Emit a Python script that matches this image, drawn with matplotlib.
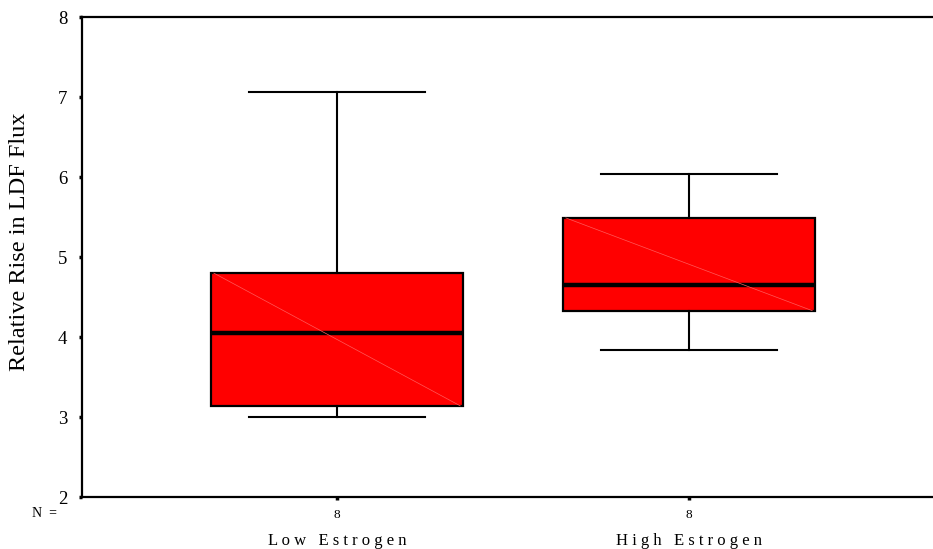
#!/usr/bin/env python3
"""
Boxplot of relative rise in LDF flux for low and high estrogen groups.
"""

import matplotlib
matplotlib.use('Agg')
import matplotlib.pyplot as plt

# data
groups = ['L o w   E s t r o g e n', 'H i g h   E s t r o g e n']
n_counts = [8, 8]
whisker_low = [3.0, 3.84]
q1 = [3.14, 4.33]
median = [4.05, 4.65]
q3 = [4.80, 5.49]
whisker_high = [7.06, 6.04]

plt.rcParams['font.family'] = ['Liberation Serif', 'DejaVu Serif']

fig = plt.figure(figsize=(9.33, 5.49), dpi=100)
ax = fig.add_axes([0.0879, 0.0947, 0.9121, 0.874])

positions = [1, 2]
stats = []
for i in range(len(groups)):
    stats.append({'whislo': whisker_low[i], 'q1': q1[i], 'med': median[i],
                  'q3': q3[i], 'whishi': whisker_high[i], 'fliers': []})

ax.bxp(stats, positions=positions, widths=0.716, capwidths=0.5,
       patch_artist=True, showfliers=False,
       boxprops=dict(facecolor='#ff0000', edgecolor='black', linewidth=1.6),
       medianprops=dict(color='black', linewidth=3.2),
       whiskerprops=dict(color='black', linewidth=1.5),
       capprops=dict(color='black', linewidth=1.5))

# faint diagonal inside each box (SPSS rendering artefact)
for p, lo, hi in zip(positions, q1, q3):
    ax.plot([p - 0.35, p + 0.35], [hi, lo], color='#ff5a5a', linewidth=0.5, zorder=3)

ax.set_xlim(0.2756, 2.693)
ax.set_ylim(2, 8)
ax.set_yticks([2, 3, 4, 5, 6, 7, 8])
ax.set_xticks(positions)
ax.set_xticklabels([str(n) for n in n_counts], fontsize=9.5)

ax.spines['right'].set_visible(False)
for s in ['left', 'top', 'bottom']:
    ax.spines[s].set_linewidth(1.6)

ax.tick_params(axis='y', direction='out', length=2.5, width=2.5, pad=8, labelsize=13.5)
ax.tick_params(axis='x', direction='out', length=2.5, width=2.5, pad=6)

ax.set_ylabel('Relative Rise in LDF Flux', fontsize=17.5)
ax.yaxis.set_label_coords(-0.061, 0.533)

for p, g in zip(positions, groups):
    ax.text(p, -0.091, g, transform=ax.get_xaxis_transform(),
            ha='center', va='center', fontsize=12)
ax.text(-0.0435, -0.035, 'N  =', transform=ax.transAxes,
        ha='center', va='center', fontsize=10)

plt.savefig('out.png', dpi=100)
plt.close()
